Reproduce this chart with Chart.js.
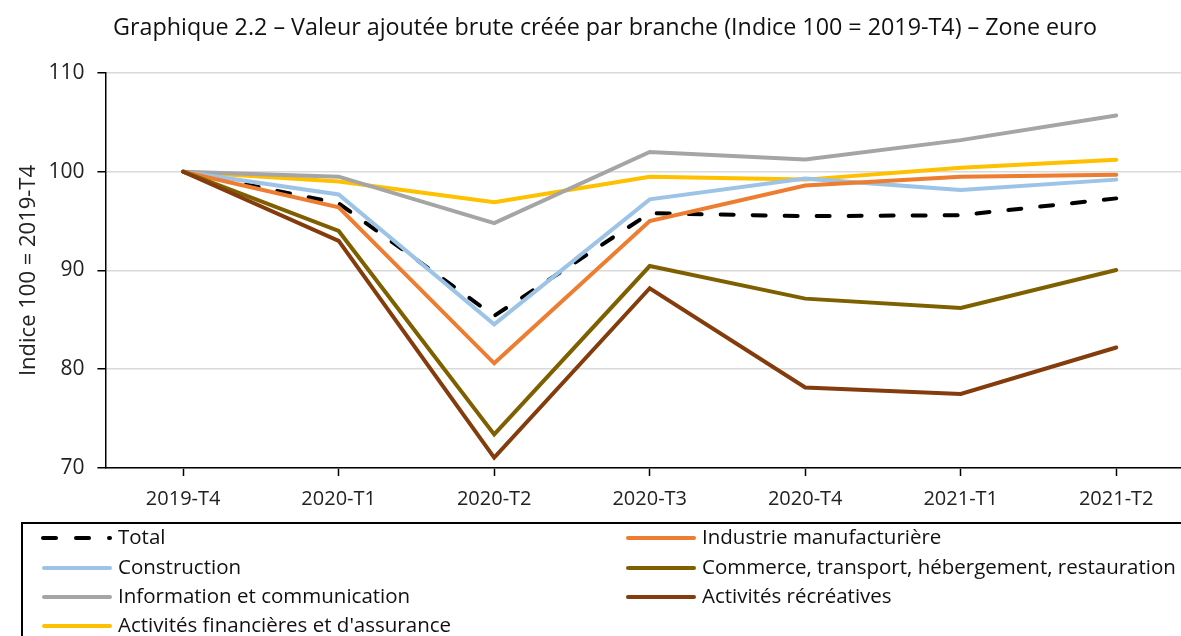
<!DOCTYPE html>
<html>
<head>
<meta charset="utf-8">
<script src="https://cdn.jsdelivr.net/npm/chart.js@4.4.1/dist/chart.umd.min.js"></script>
<style>
  html, body { margin: 0; padding: 0; background: #fff; overflow: hidden; }
  #wrap { width: 1212px; height: 636px; position: relative; }
</style>
</head>
<body>
<div id="wrap"><canvas id="c" width="1212" height="636"></canvas></div>
<script>
const categories = ['2019-T4', '2020-T1', '2020-T2', '2020-T3', '2020-T4', '2021-T1', '2021-T2'];
const total         = [100, 96.8, 85.4, 95.8, 95.5, 95.6, 97.3];
const industrie     = [100, 96.4, 80.6, 95.0, 98.6, 99.5, 99.7];
const construction  = [100, 97.7, 84.55, 97.2, 99.3, 98.15, 99.2];
const commerce      = [100, 94.0, 73.4, 90.45, 87.15, 86.2, 90.05];
const information   = [100, 99.5, 94.8, 102.0, 101.25, 103.2, 105.7];
const recreatives   = [100, 93.0, 71.05, 88.2, 78.15, 77.5, 82.2];
const financieres   = [100, 99.0, 96.9, 99.5, 99.2, 100.4, 101.2];
const yTicks = [70, 80, 90, 100, 110];

const FONT = "'Open Sans', sans-serif";

function ds(label, data, color, extra) {
  return Object.assign({
    label, data, borderColor: color, backgroundColor: color,
    borderWidth: 4, pointRadius: 0, tension: 0, fill: false,
    borderCapStyle: 'round', borderJoinStyle: 'miter'
  }, extra || {});
}

const datasets = [
  ds('Activités récréatives', recreatives, '#843C0C'),
  ds('Commerce, transport, hébergement, restauration', commerce, '#7F6000'),
  ds('Industrie manufacturière', industrie, '#ED7D31'),
  ds('Construction', construction, '#9DC3E6'),
  ds('Total', total, '#000000', { borderDash: [13, 19], borderCapStyle: 'round' }),
  ds('Information et communication', information, '#A5A5A5'),
  ds('Activités financières et d\'assurance', financieres, '#FFC000')
];

const legendOrder = ['Total', 'Industrie manufacturière', 'Construction',
  'Commerce, transport, hébergement, restauration', 'Information et communication',
  'Activités récréatives', 'Activités financières et d\'assurance'];

const boxLegend = {
  id: 'boxLegend',
  afterDraw(chart) {
    const ctx = chart.ctx;
    ctx.save();
    ctx.strokeStyle = '#000';
    ctx.lineWidth = 2;
    ctx.strokeRect(22, 523, 1300, 200);
    const colX = [42, 626];
    const rowY = [538, 568, 597, 626];
    ctx.font = '20.5px ' + FONT;
    ctx.textBaseline = 'middle';
    legendOrder.forEach((lbl, i) => {
      const d = chart.data.datasets.find(x => x.label === lbl);
      const x = colX[i % 2], y = rowY[Math.floor(i / 2)];
      ctx.beginPath();
      ctx.strokeStyle = d.borderColor;
      ctx.lineWidth = 4;
      ctx.lineCap = 'round';
      if (d.borderDash) {
        ctx.setLineDash([13, 20]);
        ctx.moveTo(x + 1, y); ctx.lineTo(x + 68, y);
      } else {
        ctx.setLineDash([]);
        ctx.moveTo(x + 2, y); ctx.lineTo(x + 68, y);
      }
      ctx.stroke();
      ctx.setLineDash([]);
      ctx.fillStyle = '#111';
      ctx.fillText(lbl, x + 76, y);
    });
    ctx.restore();
  }
};

new Chart(document.getElementById('c'), {
  type: 'line',
  data: { labels: categories, datasets },
  options: {
    responsive: false,
    animation: false,
    layout: { padding: { left: 16, right: 18, top: 0, bottom: 114 } },
    plugins: {
      legend: { display: false },
      tooltip: { enabled: false },
      title: {
        display: true,
        text: 'Graphique 2.2 – Valeur ajoutée brute créée par branche (Indice 100 = 2019-T4) – Zone euro',
        color: '#111',
        font: { family: FONT, size: 23.3, weight: 'normal' },
        padding: { top: 14, bottom: 31 }
      }
    },
    scales: {
      x: {
        offset: true,
        grid: { display: true, drawOnChartArea: false, offset: false, tickLength: 8, tickColor: '#000', tickWidth: 1.5 },
        border: { color: '#000', width: 1.5 },
        ticks: { color: '#222', font: { family: FONT, size: 20 }, padding: 11, maxRotation: 0, autoSkip: false }
      },
      y: {
        min: 70, max: 110,
        afterBuildTicks(scale) { scale.ticks = yTicks.map(v => ({ value: v })); },
        grid: { color: '#d9d9d9', lineWidth: 1.5, tickLength: 8, tickColor: '#000', tickWidth: 1.5 },
        border: { color: '#000', width: 1.5 },
        ticks: { color: '#222', font: { family: FONT, size: 21 }, padding: 13 },
        title: { display: true, text: 'Indice 100 = 2019-T4', color: '#222', font: { family: FONT, size: 22 }, padding: { top: 0, bottom: -7 } }
      }
    }
  },
  plugins: [boxLegend]
});
</script>
</body>
</html>
